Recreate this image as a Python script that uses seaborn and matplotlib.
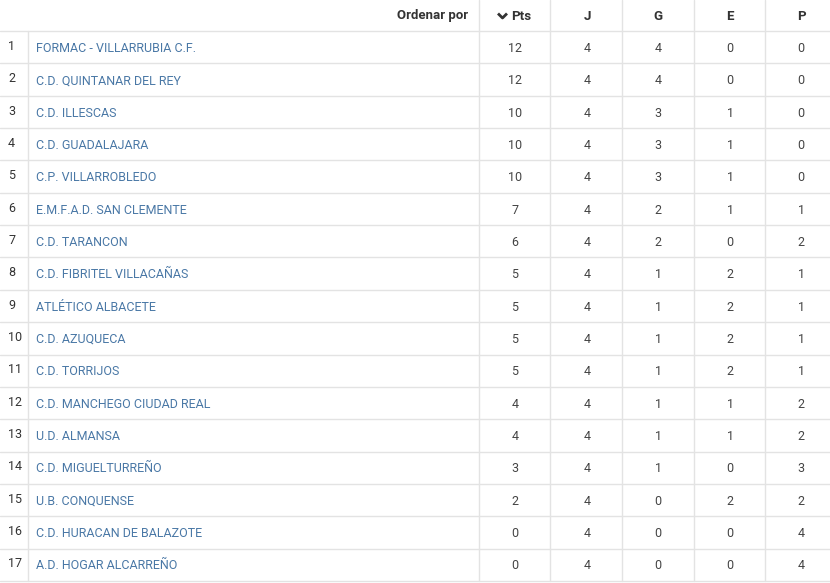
import matplotlib
matplotlib.use("Agg")
import matplotlib.pyplot as plt
import seaborn as sns

# Standings table data
teams = [
    "FORMAC - VILLARRUBIA C.F.", "C.D. QUINTANAR DEL REY", "C.D. ILLESCAS",
    "C.D. GUADALAJARA", "C.P. VILLARROBLEDO", "E.M.F.A.D. SAN CLEMENTE",
    "C.D. TARANCON", "C.D. FIBRITEL VILLACAÑAS", "ATLÉTICO ALBACETE",
    "C.D. AZUQUECA", "C.D. TORRIJOS", "C.D. MANCHEGO CIUDAD REAL",
    "U.D. ALMANSA", "C.D. MIGUELTURREÑO", "U.B. CONQUENSE",
    "C.D. HURACAN DE BALAZOTE", "A.D. HOGAR ALCARREÑO",
]
pts = [12, 12, 10, 10, 10, 7, 6, 5, 5, 5, 5, 4, 4, 3, 2, 0, 0]
j = [4] * 17
g = [4, 4, 3, 3, 3, 2, 2, 1, 1, 1, 1, 1, 1, 1, 0, 0, 0]
e = [0, 0, 1, 1, 1, 1, 0, 2, 2, 2, 2, 1, 1, 0, 2, 0, 0]
p = [0, 0, 0, 0, 0, 1, 2, 1, 1, 1, 1, 2, 2, 3, 2, 4, 4]
headers = ["Pts", "J", "G", "E", "P"]

sns.set_theme(style="white")
plt.rcParams['font.family'] = ['Roboto', 'DejaVu Sans']

W, H = 830, 583
fig = plt.figure(figsize=(W / 100, H / 100), dpi=100)
ax = fig.add_axes([0, 0, 1, 1])
ax.set_xlim(0, W)
ax.set_ylim(H, 0)
ax.axis("off")

line_c = "#e3e3e3"
top = 31
row_h = 32.35
n = len(teams)
col_edges = [479, 550, 622, 694, 765]
col_centers = [515, 587, 658, 730, 801]

# grid lines
for i in range(n + 1):
    y = top + i * row_h
    ax.plot([0, W], [y, y], color=line_c, lw=1)
bottom = top + n * row_h
ax.plot([28, 28], [top, bottom], color=line_c, lw=1)
for x in col_edges:
    ax.plot([x, x], [0, bottom], color=line_c, lw=1)

# header
ax.text(468, 16, "Ordenar por", ha="right", va="center", fontsize=9.5,
        fontweight="bold", color="#333333")
for k, h in enumerate(headers):
    cx = col_centers[k] + (6 if k == 0 else 0)
    ax.text(cx, 16, h, ha="center", va="center", fontsize=9.5,
            fontweight="bold", color="#333333")
ax.plot([498, 502.5, 507], [13.5, 18, 13.5], color="#333333", lw=2,
        solid_capstyle="butt")

# rows
cols = [pts, j, g, e, p]
for i in range(n):
    yc = top + (i + 0.5) * row_h + 1.2
    ax.text(8, yc - 2, str(i + 1), ha="left", va="center", fontsize=9,
            color="#333333")
    ax.text(36, yc, teams[i], ha="left", va="center", fontsize=9,
            color="#4a78a6")
    for k, vals in enumerate(cols):
        ax.text(col_centers[k], yc, str(vals[i]), ha="center", va="center",
                fontsize=9, color="#444444")

fig.savefig("out.png", dpi=100)
